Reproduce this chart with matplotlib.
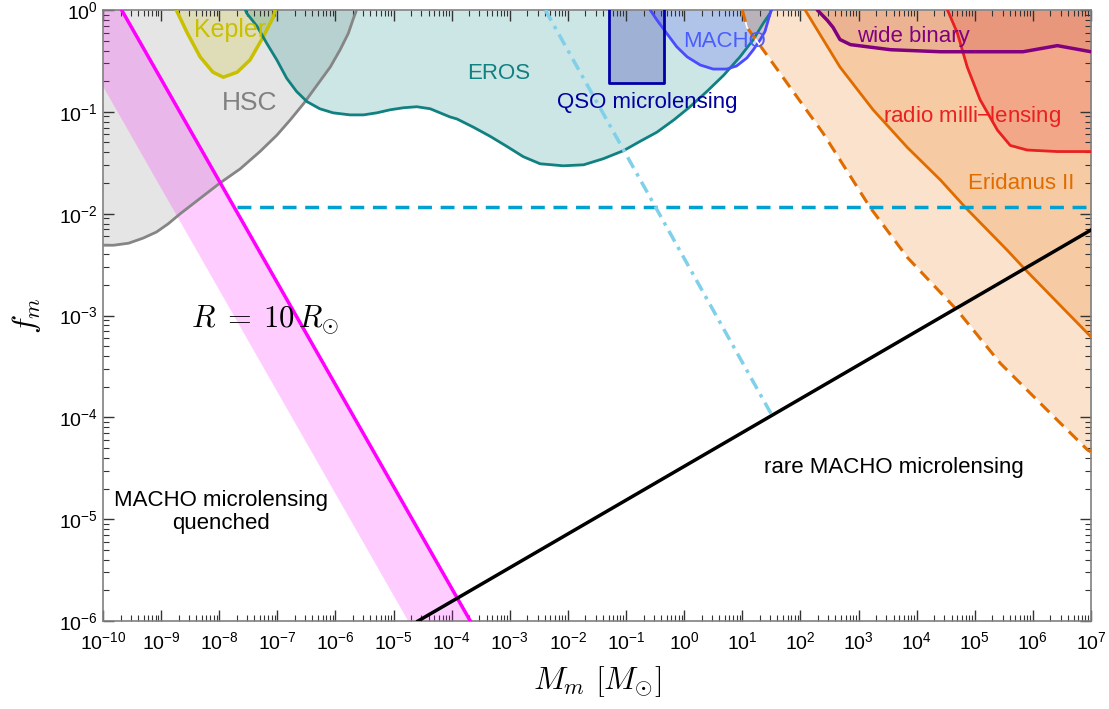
import numpy as np
import matplotlib
matplotlib.use("Agg")
import matplotlib.pyplot as plt
from matplotlib.ticker import LogLocator, NullFormatter

plt.rcParams['font.family'] = ['Liberation Sans', 'DejaVu Sans']
plt.rcParams['mathtext.fontset'] = 'custom'
plt.rcParams['mathtext.rm'] = 'Liberation Sans'
plt.rcParams['mathtext.it'] = 'Liberation Sans:italic'
plt.rcParams['mathtext.bf'] = 'Liberation Sans:bold'

# ---------------- data (log10 M, log10 f) ----------------
hsc_logm = [-10.0, -9.82, -9.56, -9.31, -9.08, -8.88, -8.67, -8.33, -7.99, -7.64, -7.30, -7.01,
            -6.78, -6.55, -6.32, -6.09, -5.92, -5.78, -5.69, -5.65, -5.64]
hsc_logf = [-2.31, -2.31, -2.29, -2.24, -2.18, -2.10, -2.00, -1.85, -1.70, -1.56, -1.39, -1.23,
            -1.08, -0.92, -0.74, -0.56, -0.39, -0.23, -0.08, -0.02, 0.0]

kepler_logm = [-8.74, -8.55, -8.33, -8.11, -7.93, -7.69, -7.47, -7.25, -7.07, -7.04]
kepler_logf = [0.0, -0.226, -0.46, -0.61, -0.66, -0.61, -0.49, -0.27, -0.07, 0.0]

eros_logm = [-7.55, -7.53, -7.35, -7.18, -7.01, -6.84, -6.67, -6.49, -6.27, -6.04, -5.75, -5.52,
             -5.29, -5.06, -4.83, -4.60, -4.37, -4.20, -4.03, -3.91, -3.63, -3.34, -3.05, -2.77,
             -2.48, -2.08, -1.73, -1.39, -1.04, -0.76, -0.47, -0.18, 0.10, 0.39, 0.68, 0.96,
             1.19, 1.36, 1.48, 1.50]
eros_logf = [0.0, -0.03, -0.16, -0.33, -0.49, -0.67, -0.80, -0.90, -0.97, -1.01, -1.03, -1.03,
             -1.01, -0.98, -0.96, -0.95, -0.97, -1.01, -1.05, -1.07, -1.15, -1.24, -1.34, -1.44,
             -1.51, -1.53, -1.52, -1.46, -1.38, -1.29, -1.20, -1.08, -0.95, -0.80, -0.64, -0.46,
             -0.29, -0.13, -0.03, 0.0]

macho_logm = [-0.585, -0.47, -0.30, -0.13, 0.05, 0.275, 0.50, 0.73, 0.90, 1.08, 1.19, 1.31, 1.39, 1.48, 1.50]
macho_logf = [0.0, -0.098, -0.23, -0.36, -0.46, -0.54, -0.58, -0.58, -0.55, -0.47, -0.39, -0.29, -0.21, -0.03, 0.0]

qso_box_m = [0.05, 0.45]
qso_box_f = [0.19, 1.0]

erid_dash_logm = [1.0, 1.08, 2.39, 3.20, 3.84, 4.70, 5.44, 6.30, 6.94, 7.0]
erid_dash_logf = [0.0, -0.17, -1.21, -1.94, -2.43, -2.95, -3.47, -3.96, -4.32, -4.34]

erid_solid_logm = [2.08, 2.68, 3.25, 3.84, 4.41, 4.84, 5.56, 5.87, 7.0]
erid_solid_logf = [0.0, -0.56, -0.98, -1.35, -1.67, -1.94, -2.36, -2.55, -3.21]

wide_logm = [2.29, 2.46, 2.56, 2.68, 2.86, 3.55, 4.41, 5.83, 6.42, 7.0]
wide_logf = [0.0, -0.10, -0.17, -0.29, -0.34, -0.39, -0.41, -0.41, -0.35, -0.41]

radio_logm = [4.53, 4.70, 4.87, 5.09, 5.39, 5.61, 5.90, 6.42, 7.0]
radio_logf = [0.0, -0.226, -0.56, -0.88, -1.18, -1.33, -1.375, -1.39, -1.39]

# R = 10 R_sun line and band
r10_m = [10**-9.68, 10**-3.68]
r10_f = [1.0, 1e-6]
band_m = [10**-10.75, 10**-4.75]
band_f = [1.0, 1e-6]

# rare MACHO microlensing line
rare_m = [10**-4.58, 1e7]
rare_f = [1e-6, 10**-2.16]

# QSO dash-dot line
qso_line_m = [10**-2.39, 10**1.51]
qso_line_f = [1.0, 10**-3.98]

# horizontal dashed line
hline_m = [10**-7.69, 1e7]
hline_f = [0.0116, 0.0116]

# ---------------- figure ----------------
fig = plt.figure(figsize=(11.09, 7.09), dpi=100)
ax = fig.add_axes([0.0929, 0.1241, 0.8909, 0.8618])
ax.set_xscale('log')
ax.set_yscale('log')
ax.set_xlim(1e-10, 1e7)
ax.set_ylim(1e-6, 1.0)

def pw(a):
    return 10.0 ** np.asarray(a)

TOP = 1.0
KW = dict(solid_joinstyle='round', solid_capstyle='round')

# HSC
ax.fill_between(pw(hsc_logm), pw(hsc_logf), TOP, color='#808080', alpha=0.2, lw=0, zorder=1)
ax.plot(pw(hsc_logm), pw(hsc_logf), color='#858585', lw=2, zorder=3, **KW)
# Kepler
ax.fill_between(pw(kepler_logm), pw(kepler_logf), TOP, color='#c8c000', alpha=0.2, lw=0, zorder=1)
ax.plot(pw(kepler_logm), pw(kepler_logf), color='#c8c000', lw=2.5, zorder=3, **KW)
# EROS
ax.fill_between(pw(eros_logm), pw(eros_logf), TOP, color='#008080', alpha=0.2, lw=0, zorder=1)
ax.plot(pw(eros_logm), pw(eros_logf), color='#108080', lw=2, zorder=3, **KW)
# MACHO
ax.fill_between(pw(macho_logm), pw(macho_logf), TOP, color='#4040ff', alpha=0.2, lw=0, zorder=1)
ax.plot(pw(macho_logm), pw(macho_logf), color='#4a4aff', lw=2, zorder=3, **KW)
# QSO box
ax.fill_between(qso_box_m, qso_box_f[0], qso_box_f[1], color='#0000a0', alpha=0.22, lw=0, zorder=1)
ax.plot([qso_box_m[0], qso_box_m[0], qso_box_m[1], qso_box_m[1]],
        [qso_box_f[1], qso_box_f[0], qso_box_f[0], qso_box_f[1]], color='#0000a8', lw=2, zorder=3)
# Eridanus II
ax.fill_between(pw(erid_dash_logm), pw(erid_dash_logf), TOP, color='#e66e00', alpha=0.2, lw=0, zorder=1)
ax.plot(pw(erid_dash_logm), pw(erid_dash_logf), color='white', lw=1.2, zorder=3)
ax.plot(pw(erid_dash_logm), pw(erid_dash_logf), color='#e06c00', lw=2.2, ls=(0, (4, 2.5)), zorder=3)
ax.fill_between(pw(erid_solid_logm), pw(erid_solid_logf), TOP, color='#e66e00', alpha=0.2, lw=0, zorder=1)
ax.plot(pw(erid_solid_logm), pw(erid_solid_logf), color='#e06c00', lw=2, zorder=3, **KW)
# radio milli-lensing
ax.fill_between(pw(radio_logm), pw(radio_logf), TOP, color='#e61e1e', alpha=0.2, lw=0, zorder=1)
ax.plot(pw(radio_logm), pw(radio_logf), color='#e82020', lw=2, zorder=3, **KW)
# wide binary
ax.fill_between(pw(wide_logm), pw(wide_logf), TOP, color='#c85a50', alpha=0.2, lw=0, zorder=1)
ax.plot(pw(wide_logm), pw(wide_logf), color='#800080', lw=2.5, zorder=3, **KW)

# pink band and R = 10 R_sun line
ax.fill(list(band_m) + list(r10_m[::-1]), list(band_f) + list(r10_f[::-1]),
        color='#ff00ff', alpha=0.2, lw=0, zorder=2)
ax.plot(r10_m, r10_f, color='#ff00ff', lw=2.5, zorder=4)

# horizontal dashed
ax.plot(hline_m, hline_f, color='#00a0d0', lw=2.5, ls=(0, (4, 2.5)), zorder=4)
# QSO dash-dot
ax.plot(qso_line_m, qso_line_f, color='#7fd0e8', lw=2.5, ls=(0, (3.5, 1.8, 1, 1.8)), zorder=4)
# rare MACHO line
ax.plot(rare_m, rare_f, color='black', lw=2.5, zorder=5)

# ---------------- text ----------------
LBL = 16
ax.text(10**-7.81, 10**-0.20, 'Kepler', color='#c8c000', fontsize=18, ha='center', va='center', zorder=6)
ax.text(10**-7.47, 10**-0.91, 'HSC', color='#808080', fontsize=19, ha='center', va='center', zorder=6)
ax.text(10**-3.20, 10**-0.62, 'EROS', color='#108080', fontsize=LBL, ha='center', va='center', zorder=6)
ax.text(10**-0.64, 10**-0.91, 'QSO microlensing', color='#0000a0', fontsize=LBL, ha='center', va='center', zorder=6)
ax.text(10**0.70, 10**-0.31, 'MACHO', color='#4a5cff', fontsize=LBL, ha='center', va='center', zorder=6)
ax.text(10**3.94, 10**-0.265, 'wide binary', color='#800080', fontsize=LBL, ha='center', va='center', zorder=6)
ax.text(10**4.96, 10**-1.05, 'radio milli$-$lensing', color='#e82020', fontsize=LBL, ha='center', va='center', zorder=6)
ax.text(10**5.80, 10**-1.70, 'Eridanus II', color='#e06c00', fontsize=LBL, ha='center', va='center', zorder=6)
ax.text(10**-7.21, 10**-3.04, r'$R\;=\;10\,R_{\odot}$', color='black', fontsize=22, ha='center', va='center',
        math_fontfamily='cm', zorder=6)
ax.text(10**3.60, 10**-4.49, 'rare MACHO microlensing', color='black', fontsize=LBL, ha='center', va='center', zorder=6)
ax.text(10**-7.97, 10**-4.93, 'MACHO microlensing\nquenched', color='black', fontsize=LBL, ha='center', va='center',
        linespacing=1.1, zorder=6)

ax.set_xlabel(r'$M_m\ [M_{\odot}]$', fontsize=23, math_fontfamily='cm', labelpad=8)
ax.set_ylabel(r'$f_m$', fontsize=23, math_fontfamily='cm', labelpad=12)

# ---------------- ticks ----------------
ax.xaxis.set_major_locator(LogLocator(base=10, numticks=40))
ax.xaxis.set_minor_locator(LogLocator(base=10, subs=np.arange(2, 10), numticks=400))
ax.xaxis.set_minor_formatter(NullFormatter())
ax.yaxis.set_major_locator(LogLocator(base=10, numticks=40))
ax.yaxis.set_minor_locator(LogLocator(base=10, subs=np.arange(2, 10), numticks=400))
ax.yaxis.set_minor_formatter(NullFormatter())
ax.tick_params(which='both', direction='in', top=True, right=True, labelsize=14, color='#333333')
ax.tick_params(which='major', length=8, width=1)
ax.tick_params(which='minor', length=4, width=0.8)
ax.tick_params(axis='x', which='major', pad=7)
for s in ax.spines.values():
    s.set_color('#808080')
    s.set_linewidth(1.2)

fig.savefig('out.png', dpi=100)
